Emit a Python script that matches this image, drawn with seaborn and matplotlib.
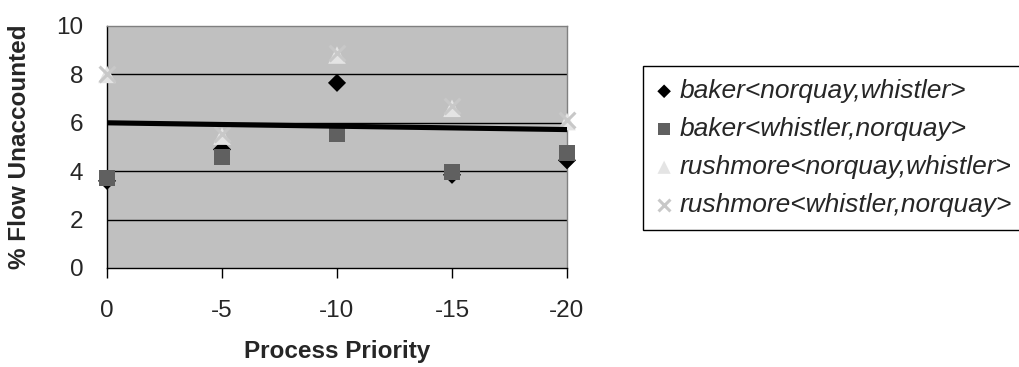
import matplotlib
matplotlib.use("Agg")
import matplotlib.pyplot as plt
import seaborn as sns
import pandas as pd
import numpy as np

priority = [0, -5, -10, -15, -20]
baker_nw = [3.6, 4.9, 7.65, 3.85, 4.45]
baker_wn = [3.72, 4.58, 5.53, 3.98, 4.76]
rush_nw = [8.0, 5.45, 8.8, 6.6, 6.05]
rush_wn = [8.0, 5.55, 8.87, 6.7, 6.1]
series_names = ["baker<norquay,whistler>", "baker<whistler,norquay>",
                "rushmore<norquay,whistler>", "rushmore<whistler,norquay>"]
trend_x = [0, -20]
trend_y = [6.0, 5.72]

rows = []
for name, vals in zip(series_names, [baker_nw, baker_wn, rush_nw, rush_wn]):
    for p, v in zip(priority, vals):
        rows.append({"Process Priority": p, "value": v, "series": name})
df = pd.DataFrame(rows)

sns.set_theme(style="white")
plt.rcParams['font.family'] = ['Liberation Sans', 'DejaVu Sans']

fig = plt.figure(figsize=(10.19, 3.67), dpi=100)
ax = fig.add_axes([107/1019, (367-268)/367, 460/1019, 242/367])
ax.set_facecolor("#C0C0C0")

colors = {series_names[0]: "#000000", series_names[1]: "#606060",
          series_names[2]: "#E4E4E4", series_names[3]: "#C8C8C8"}
markers = {series_names[0]: "D", series_names[1]: "s",
           series_names[2]: "^", series_names[3]: "X"}
sizes = {series_names[0]: 85, series_names[1]: 130,
         series_names[2]: 160, series_names[3]: 130}

for name in series_names:
    sub = df[df.series == name]
    if name == series_names[3]:
        sns.scatterplot(data=sub, x="Process Priority", y="value", ax=ax,
                        marker="x", s=sizes[name], color=colors[name], linewidth=2.2,
                        label=name, zorder=5, clip_on=False)
    else:
        sns.scatterplot(data=sub, x="Process Priority", y="value", ax=ax,
                        marker=markers[name], s=sizes[name], color=colors[name],
                        edgecolor="none", label=name, zorder=4, clip_on=False)

sns.lineplot(x=trend_x, y=trend_y, ax=ax, color="black", linewidth=3.7,
             zorder=6, legend=False)

ax.set_xlim(0, -20)
ax.set_ylim(0, 10)
ax.set_xticks(priority)
ax.set_xticklabels([str(p) for p in priority])
ax.set_yticks([0, 2, 4, 6, 8, 10])
for yv in [2, 4, 6, 8]:
    ax.axhline(yv, color="black", linewidth=1, zorder=1)
ax.tick_params(axis="x", labelsize=17.5, length=7, width=1, color="black",
               direction="out", bottom=True, pad=16)
ax.tick_params(axis="y", labelsize=17.5, length=0, left=True, pad=17)
for s in ["top", "right"]:
    ax.spines[s].set_color("#808080")
ax.spines["left"].set_color("black")
ax.spines["bottom"].set_color("black")
for s in ax.spines.values():
    s.set_linewidth(1)

ax.set_xlabel("Process Priority", fontsize=17.5, fontweight="bold", labelpad=13)
ax.set_ylabel("% Flow Unaccounted", fontsize=17.5, fontweight="bold", labelpad=18)

handles, labels = ax.get_legend_handles_labels()
handles = handles[:4]
labels = labels[:4]
leg = ax.legend(handles, labels, loc="upper left",
                bbox_to_anchor=(643/1019, (367-66)/367),
                bbox_transform=fig.transFigure, frameon=True, fancybox=False,
                edgecolor="black", facecolor="white", framealpha=1,
                prop={"size": 19, "style": "italic"}, handletextpad=0.3,
                handlelength=0.6, labelspacing=0.53, borderpad=0.5,
                markerscale=0.75, borderaxespad=0)
leg.get_frame().set_linewidth(1)

fig.savefig("out.png", dpi=100)
